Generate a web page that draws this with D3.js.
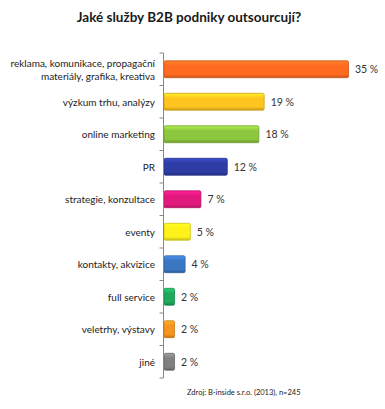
<!DOCTYPE html>
<html><head><meta charset="utf-8">
<script src="https://cdn.jsdelivr.net/npm/d3@7"></script>
<style>body{margin:0;background:#fff}svg{display:block}</style>
</head><body><div id="chart"></div>
<script>
const categories = [
  ["reklama, komunikace, propagační", "materiály, grafika, kreativa"],
  ["výzkum trhu, analýzy"],
  ["online marketing"],
  ["PR"],
  ["strategie, konzultace"],
  ["eventy"],
  ["kontakty, akvizice"],
  ["full service"],
  ["veletrhy, výstavy"],
  ["jiné"]
];
const values = [35, 19, 18, 12, 7, 5, 4, 2, 2, 2];
const colors = ["#FF6A21", "#FFC41E", "#8DC63F", "#2E3DA6", "#E2197C", "#FFF21A", "#3B76C2", "#1FAA5C", "#F7941D", "#808080"];
const title = "Jaké služby B2B podniky outsourcují?";
const source = "Zdroj: B-inside  s.r.o.  (2013),  n=245";

(function () {
const W = 385, H = 409;
const svg = d3.select("#chart").append("svg").attr("width", W).attr("height", H);
const font = "Lato, 'Open Sans', sans-serif";
const x0 = 163.5, yTop = 53, yBottom = 378;
const x = d3.scaleLinear().domain([0, 35]).range([x0, 348]);
const y = d3.scaleBand().domain(d3.range(categories.length)).range([yTop, yBottom]).paddingInner(0.48).paddingOuter(0.24);
const yb = d3.scaleBand().domain(d3.range(categories.length)).range([yTop, yBottom]);

const defs = svg.append("defs");
colors.forEach((c, i) => {
  const g = defs.append("linearGradient").attr("id", "g" + i).attr("x1", 0).attr("y1", 0).attr("x2", 0).attr("y2", 1);
  const col = d3.color(c);
  g.append("stop").attr("offset", "0%").attr("stop-color", col.brighter(0.6));
  g.append("stop").attr("offset", "30%").attr("stop-color", col);
  g.append("stop").attr("offset", "80%").attr("stop-color", col);
  g.append("stop").attr("offset", "100%").attr("stop-color", col.darker(0.7));
});

svg.append("text").attr("x", 189).attr("y", 22).attr("text-anchor", "middle")
  .attr("font-family", font).attr("font-weight", "bold").attr("font-size", 13.5).attr("fill", "#1a1a1a").text(title);

svg.selectAll("rect.bar").data(values).join("rect").attr("class", "bar")
  .attr("x", x(0) + 0.5).attr("y", (d, i) => y(i)).attr("height", y.bandwidth())
  .attr("width", d => x(d) - x(0)).attr("rx", 1.5)
  .attr("fill", (d, i) => "url(#g" + i + ")")
  .attr("stroke", (d, i) => d3.color(colors[i]).darker(0.6)).attr("stroke-width", 0.8);

const ag = svg.append("g").attr("transform", `translate(${x0},0)`);
ag.append("line").attr("x1", 0).attr("x2", 0).attr("y1", yTop).attr("y2", yBottom).attr("stroke", "#888");
d3.range(categories.length + 1).forEach(i => {
  const yy = yTop + i * yb.step();
  ag.append("line").attr("x1", -4).attr("x2", 0).attr("y1", yy).attr("y2", yy).attr("stroke", "#888");
});

categories.forEach((lines, i) => {
  const cy = yb(i) + yb.bandwidth() / 2;
  const t = svg.append("text").attr("text-anchor", "end").attr("font-family", font).attr("font-size", 10).attr("fill", "#222");
  lines.forEach((l, j) => {
    t.append("tspan").attr("x", 155).attr("y", cy + 4 + (j - (lines.length - 1) / 2) * 13).text(l);
  });
});

svg.selectAll("text.val").data(values).join("text").attr("class", "val")
  .attr("x", d => x(d) + 7).attr("y", (d, i) => yb(i) + yb.bandwidth() / 2 + 4)
  .attr("font-family", font).attr("font-size", 10.5).attr("fill", "#333")
  .text(d => d + " %");

svg.append("text").attr("x", 187).attr("y", 395).attr("font-family", font).attr("font-size", 7.5).attr("fill", "#222").text(source);
})();
</script></body></html>
